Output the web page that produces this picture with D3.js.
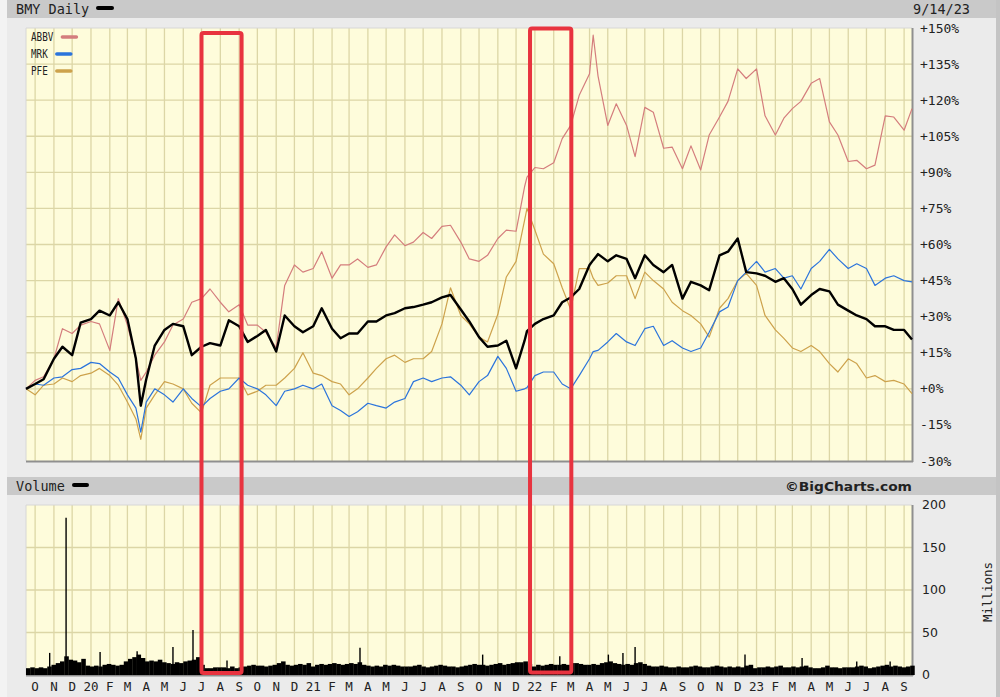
<!DOCTYPE html>
<html>
<head>
<meta charset="utf-8">
<script src="https://cdn.jsdelivr.net/npm/d3@7"></script>
<style>
  body { margin: 0; background: #ebebeb; }
  svg { display: block; }
  text { font-family: "DejaVu Sans Mono", monospace; fill: #222; }
</style>
</head>
<body>
<div id="canvas"></div>
<script>
// chart data (percent change since 2019-09-16)
const dates = [
  "2019-09-16","2019-10-01","2019-10-15","2019-11-01","2019-11-15","2019-12-01","2019-12-15",
  "2020-01-01","2020-01-15","2020-02-01","2020-02-15","2020-03-01","2020-03-15","2020-03-23",
  "2020-04-01","2020-04-15","2020-05-01","2020-05-15","2020-06-01","2020-06-15","2020-07-01",
  "2020-07-15","2020-08-01","2020-08-15","2020-09-01","2020-09-15","2020-10-01","2020-10-15",
  "2020-11-01","2020-11-15","2020-12-01","2020-12-15","2021-01-01","2021-01-15","2021-02-01",
  "2021-02-15","2021-03-01","2021-03-15","2021-04-01","2021-04-15","2021-05-01","2021-05-15",
  "2021-06-01","2021-06-15","2021-07-01","2021-07-15","2021-08-01","2021-08-15","2021-09-01",
  "2021-09-15","2021-10-01","2021-10-15","2021-11-01","2021-11-15","2021-12-01","2021-12-15",
  "2021-12-19","2022-01-01","2022-01-15","2022-02-01","2022-02-15","2022-03-01","2022-03-15",
  "2022-04-01","2022-04-07","2022-04-15","2022-05-01","2022-05-15","2022-06-01","2022-06-15",
  "2022-07-01","2022-07-15","2022-08-01","2022-08-15","2022-09-01","2022-09-15","2022-10-01",
  "2022-10-15","2022-11-01","2022-11-15","2022-12-01","2022-12-15","2023-01-01","2023-01-15",
  "2023-02-01","2023-02-15","2023-03-01","2023-03-15","2023-04-01","2023-04-15","2023-05-01",
  "2023-05-15","2023-06-01","2023-06-15","2023-07-01","2023-07-15","2023-08-01","2023-08-15",
  "2023-09-01","2023-09-14"
];

const bmy = [
  0, 2, 4, 12.5, 17.5, 14, 27.5,
  29, 32.5, 30.5, 36, 29, 12.5, -7,
  4, 18, 24.5, 27, 26, 14, 17.5,
  19, 18, 28.5, 26, 19.5, 22, 24.5,
  15.5, 30.5, 26, 23.5, 26, 33.5, 25,
  21, 23, 23, 28, 28, 30.5, 31.5,
  33.5, 34, 35, 36, 38, 39, 33,
  28, 21.5, 17.5, 18, 20, 8.5, 20,
  24, 27, 29, 30.5, 36, 38, 41.5,
  51.5, 53.5, 56, 53, 55.5, 54, 46,
  55.5, 51.5, 48.5, 51.5, 37.5, 44.5, 43,
  41, 55.5, 57, 62.5, 48.5, 48, 47,
  44.5, 46, 41.5, 35, 39, 41.5, 40.5,
  35, 32.5, 30.5, 29, 26, 26, 24.5,
  24.5, 20.5
];

const abbv = [
  0, 3.5, 5, 12.5, 25, 23, 26.5,
  28, 27, 16, 37.5, 26.5, 12.5, 3.5,
  7, 14, 19.5, 26.5, 29, 36, 37.5,
  41.5, 36, 32, 35, 26.5, 26.5, 23.5,
  17, 43, 51.5, 48.5, 50, 57, 46,
  51.5, 51.5, 54, 50.5, 51.5, 59, 64,
  59.5, 61, 65, 62.5, 67.5, 68, 61,
  54, 53, 55.5, 62.5, 66, 65.5, 84,
  88, 92, 91.5, 94, 104, 109.5, 122,
  131, 147, 130, 109.5, 118.5, 109.5, 96.5,
  117, 115, 100, 100.5, 91.5, 101, 91,
  105.5, 113, 119.5, 133, 129, 133, 113.5,
  105.5, 112.5, 116.5, 119.5, 127, 129, 111,
  105.5, 94.5, 95, 91.5, 93, 113.5, 113,
  107.5, 116.5
];

const mrk = [
  0, 2, 1.5, 4.5, 5, 8, 8.5,
  11, 10.5, 7, 4.5, -2.5, -8, -18,
  -5.5, 0, -2.5, -5.5, 0, -4, -7.5,
  -4, -1, 0, 4.5, 1.5, 0, -2.5,
  -7, -1, 0, 1.5, 0, 2, -7,
  -9, -11.5, -9.5, -6, -7, -8, -5.5,
  -4, 3, 4.5, 3, 4.5, 5, 1.5,
  -2.5, 3, 5.5, 13.5, 8.5, -1, 0,
  0.5, 5.5, 7, 7, 2, 0, 5.5,
  12.5, 15.5, 16, 19.5, 23, 19.5, 18,
  25, 26, 18, 20, 17, 15.5, 17,
  23.5, 32, 34, 45, 48.5, 53, 48.5,
  50, 46, 47, 41.5, 50, 53, 58,
  54, 50, 52, 50, 43, 46, 47,
  45, 44.5
];

const pfe = [
  0, -2.5, 1.5, 2, 4.5, 3, 5.5,
  6.5, 8.5, 5.5, 1.5, -5.5, -12.5, -21,
  -8, -2.5, 3, 2, 0, -6, -10,
  1.5, 4.5, 4.5, 4.5, -2.5, -1, 1.5,
  1.5, 4.5, 8.5, 15, 6.5, 5.5, 3,
  2, -2.5, 0, 4.5, 8.5, 12.5, 14,
  11, 12.5, 12.5, 15.5, 27, 42, 30.5,
  27, 21.5, 19.5, 31, 46.5, 53, 70,
  75, 66, 56, 52, 42, 33, 50,
  50, 46, 43, 44, 47, 47, 37.5,
  48.5, 45, 41.5, 36, 32.5, 30.5, 27,
  21.5, 33.5, 37.5, 45, 48, 43, 30.5,
  24.5, 21, 17, 15.5, 18, 15.5, 10.5,
  7, 12.5, 10.5, 4.5, 5.5, 3, 3.5,
  2, -2
];

// weekly volume in millions, one value per week from volumeStart
const volumeStart = "2019-09-16";
const volumeWeekly = [
  8, 9,
  8, 9, 8, 10, 12,
  14, 16, 22, 18,
  17, 15, 19, 11, 10,
  11, 10, 12, 13,
  12, 11, 12, 16,
  19, 21, 24, 20, 16,
  17, 16, 18, 15,
  14, 13, 15, 14,
  16, 17, 18, 21, 12,
  8, 8, 9, 9,
  9, 8, 10, 8, 9,
  10, 11, 12, 11,
  11, 10, 11, 12,
  14, 16, 12, 11, 12,
  13, 12, 14, 10,
  12, 13, 12, 13,
  14, 13, 12, 13,
  14, 13, 15, 12, 11,
  10, 11, 10, 12,
  11, 12, 11, 10, 10,
  10, 11, 12, 10,
  9, 10, 11, 12,
  11, 10, 10, 9, 10,
  11, 12, 13, 12,
  12, 11, 12, 13,
  14, 12, 13, 14, 15,
  15, 16, 13, 10,
  12, 11, 12, 13, 12,
  12, 13, 12, 14,
  14, 13, 12, 12,
  13, 12, 14, 15,
  16, 14, 13, 12, 13,
  12, 14, 15, 13,
  11, 10, 10, 11,
  10, 9, 9, 10, 9,
  9, 10, 11, 10,
  9, 9, 10, 11, 10,
  9, 10, 9, 10,
  9, 11, 12, 8,
  9, 9, 10, 9, 10,
  11, 9, 9, 10,
  9, 10, 11, 9,
  8, 8, 9, 11,
  9, 9, 8, 9, 9,
  9, 10, 11, 10,
  8, 9, 10, 11, 12,
  10, 11, 10, 9,
  10, 11
];

// single days with high volume
const spikeDates = [
  "2019-10-25","2019-11-21","2020-01-16","2020-03-17","2020-05-15","2020-06-17","2020-08-12",
  "2021-03-19","2021-10-07","2022-02-11","2022-05-02","2022-05-26","2022-06-15","2022-12-13",
  "2023-03-17","2023-06-15","2023-08-09"
];
const spikeVolumes = [26, 185, 27, 28, 33, 53, 17, 32, 24, 22, 24, 26, 33, 24, 20, 16, 16];

const pctTicks = [-30, -15, 0, 15, 30, 45, 60, 75, 90, 105, 120, 135, 150];
const volumeTicks = [0, 50, 100, 150, 200];
const monthLetters = ["J","F","M","A","M","J","J","A","S","O","N","D"];

// red boxes drawn on the picture
const highlightRanges = [["2020-07-01", "2020-09-05"], ["2021-12-24", "2022-03-02"]];

const legendItems = [
  {name: "ABBV", colour: "#d47d7d"},
  {name: "MRK", colour: "#2b74dc"},
  {name: "PFE", colour: "#cda24c"}
];

// define svg canvas
const width = 1000, height = 697;
const plot = {left: 26, right: 912, top: 28, bottom: 461};
const vol = {top: 505, bottom: 675};

const svg = d3.select("#canvas")
  .append("svg")
  .attr("width", width)
  .attr("height", height);

const parse = d3.timeParse("%Y-%m-%d");

const x = d3.scaleTime()
  .domain([parse("2019-09-16"), parse("2023-09-14")])
  .range([plot.left, plot.right]);

const y = d3.scaleLinear()
  .domain([-30, 150])
  .range([plot.bottom, plot.top]);

const yv = d3.scaleLinear()
  .domain([0, 200])
  .range([vol.bottom, vol.top]);

const months = d3.timeMonth.range(parse("2019-10-01"), parse("2023-09-02"));

// frame and header bars
svg.append("rect").attr("width", width).attr("height", height).attr("fill", "#ebebeb");
svg.append("rect").attr("x", 0).attr("y", 0).attr("width", 7).attr("height", height).attr("fill", "#f3f3f3");
svg.append("rect").attr("x", 996).attr("y", 0).attr("width", 4).attr("height", height).attr("fill", "#c4c4c4");
svg.append("rect").attr("x", 7).attr("y", 0).attr("width", 989).attr("height", 18).attr("fill", "#c9c9c9");
svg.append("rect").attr("x", 7).attr("y", 477).attr("width", 989).attr("height", 18).attr("fill", "#c9c9c9");

svg.append("text")
  .attr("x", 16).attr("y", 9).attr("dy", "0.35em")
  .style("font-size", "13.5px").attr("fill", "#333")
  .text("BMY Daily");
svg.append("line")
  .attr("x1", 98).attr("x2", 112).attr("y1", 8).attr("y2", 8)
  .attr("stroke", "#000").attr("stroke-width", 4).attr("stroke-linecap", "round");
svg.append("text")
  .attr("x", 913).attr("y", 9).attr("dy", "0.35em")
  .style("font-size", "13.5px").attr("fill", "#333")
  .text("9/14/23");

svg.append("text")
  .attr("x", 16).attr("y", 486).attr("dy", "0.35em")
  .style("font-size", "13.5px").attr("fill", "#333")
  .text("Volume");
svg.append("line")
  .attr("x1", 74).attr("x2", 87).attr("y1", 485).attr("y2", 485)
  .attr("stroke", "#000").attr("stroke-width", 4).attr("stroke-linecap", "round");
svg.append("text")
  .attr("x", 912).attr("y", 486).attr("dy", "0.35em")
  .attr("text-anchor", "end")
  .attr("textLength", 127).attr("lengthAdjust", "spacingAndGlyphs")
  .style("font-family", "'DejaVu Sans', sans-serif").style("font-weight", "bold").style("font-size", "13px")
  .attr("fill", "#858585")
  .text("\u00a9BigCharts.com");

// plot backgrounds and grids
function drawPanel(top, bottom, hTicks, yScale) {
  const g = svg.append("g");
  g.append("rect")
    .attr("x", plot.left).attr("y", top)
    .attr("width", plot.right - plot.left).attr("height", bottom - top)
    .attr("fill", "#fefcdb");
  g.selectAll(".vgrid")
    .data(months)
    .join("line")
    .attr("x1", d => x(d)).attr("x2", d => x(d))
    .attr("y1", top).attr("y2", bottom)
    .attr("stroke", "#dcd6a6").attr("stroke-width", 1.3);
  g.selectAll(".hgrid")
    .data(hTicks)
    .join("line")
    .attr("x1", plot.left).attr("x2", plot.right)
    .attr("y1", d => yScale(d)).attr("y2", d => yScale(d))
    .attr("stroke", "#dcd6a6").attr("stroke-width", 1.3);
  g.append("line")
    .attr("x1", plot.left).attr("x2", plot.right).attr("y1", top).attr("y2", top)
    .attr("stroke", "#d6d6d6").attr("stroke-width", 1);
  g.append("line")
    .attr("x1", plot.left).attr("x2", plot.left).attr("y1", top).attr("y2", bottom)
    .attr("stroke", "#d6d6d6").attr("stroke-width", 1);
  g.append("line")
    .attr("x1", plot.left).attr("x2", plot.right + 1).attr("y1", bottom + 0.5).attr("y2", bottom + 0.5)
    .attr("stroke", "#8f8f8f").attr("stroke-width", 2);
  g.append("line")
    .attr("x1", plot.right + 0.5).attr("x2", plot.right + 0.5).attr("y1", top).attr("y2", bottom + 1)
    .attr("stroke", "#8f8f8f").attr("stroke-width", 2);
}
drawPanel(plot.top, plot.bottom, pctTicks.slice(1, -1), y);
drawPanel(vol.top, vol.bottom, volumeTicks.slice(1, -1), yv);

// right axis labels
svg.selectAll(".pctLabel")
  .data(pctTicks)
  .join("text")
  .attr("x", 920).attr("y", d => y(d)).attr("dy", "0.35em")
  .style("font-size", "13px")
  .text(d => (d >= 0 ? "+" : "-") + Math.abs(d) + "%");

svg.selectAll(".volLabel")
  .data(volumeTicks)
  .join("text")
  .attr("x", 922).attr("y", d => yv(d)).attr("dy", "0.35em")
  .style("font-family", "'DejaVu Sans', sans-serif").style("font-size", "12.5px")
  .text(d => d);

svg.append("text")
  .attr("transform", "translate(988,592) rotate(-90)")
  .attr("text-anchor", "middle").attr("dy", "0.35em")
  .style("font-size", "12.5px")
  .text("Millions");

// month labels
svg.selectAll(".monthLabel")
  .data(months)
  .join("text")
  .attr("x", d => x(d)).attr("y", 687).attr("dy", "0.35em")
  .attr("text-anchor", "middle")
  .style("font-size", "12.5px")
  .text(d => d.getMonth() === 0 ? String(d.getFullYear()).slice(2) : monthLetters[d.getMonth()]);

// plot volume
const weekStart = parse(volumeStart);
const weeks = volumeWeekly.map((v, i) => ({date: d3.timeDay.offset(weekStart, i * 7), value: v}));
svg.append("g")
  .selectAll("rect")
  .data(weeks)
  .join("rect")
  .attr("x", d => x(d.date))
  .attr("y", d => yv(d.value))
  .attr("width", d => x(d3.timeDay.offset(d.date, 7)) - x(d.date) + 0.3)
  .attr("height", d => yv(0) - yv(d.value))
  .attr("fill", "#000");

svg.append("g")
  .selectAll("line")
  .data(spikeDates.map((d, i) => ({date: parse(d), value: spikeVolumes[i]})))
  .join("line")
  .attr("x1", d => x(d.date)).attr("x2", d => x(d.date))
  .attr("y1", yv(0)).attr("y2", d => yv(d.value))
  .attr("stroke", "#000").attr("stroke-width", 1.4);

// plot price lines
const series = [
  {values: abbv, colour: "#d47d7d", width: 1.2},
  {values: pfe, colour: "#cda24c", width: 1.2},
  {values: mrk, colour: "#2b74dc", width: 1.2},
  {values: bmy, colour: "#000000", width: 2.4}
];
const line = d3.line()
  .x(d => x(d.date))
  .y(d => y(d.value));

series.forEach(s => {
  svg.append("path")
    .datum(dates.map((d, i) => ({date: parse(d), value: s.values[i]})))
    .attr("fill", "none")
    .attr("stroke", s.colour)
    .attr("stroke-width", s.width)
    .attr("stroke-linejoin", "round")
    .attr("d", line);
});

// legend
const legend = svg.append("g");
legendItems.forEach((item, i) => {
  const ly = 37 + i * 17;
  legend.append("text")
    .attr("x", 31).attr("y", ly).attr("dy", "0.35em")
    .attr("textLength", item.name.length * 5.6).attr("lengthAdjust", "spacingAndGlyphs")
    .style("font-size", "12.5px").attr("fill", "#7d7d7d")
    .text(item.name);
  const lx = 31 + item.name.length * 5.6 + 9;
  legend.append("line")
    .attr("x1", lx).attr("x2", lx + 14).attr("y1", ly).attr("y2", ly)
    .attr("stroke", item.colour).attr("stroke-width", 3.5).attr("stroke-linecap", "round");
});

// red highlight boxes
svg.append("g")
  .selectAll("rect")
  .data(highlightRanges)
  .join("rect")
  .attr("x", d => x(parse(d[0])))
  .attr("y", (d, i) => i === 0 ? 33 : 28.5)
  .attr("width", d => x(parse(d[1])) - x(parse(d[0])))
  .attr("height", (d, i) => i === 0 ? 640 : 644)
  .attr("rx", 2)
  .attr("fill", "none")
  .attr("stroke", "#e8333f")
  .attr("stroke-width", 4);
</script>
</body>
</html>
